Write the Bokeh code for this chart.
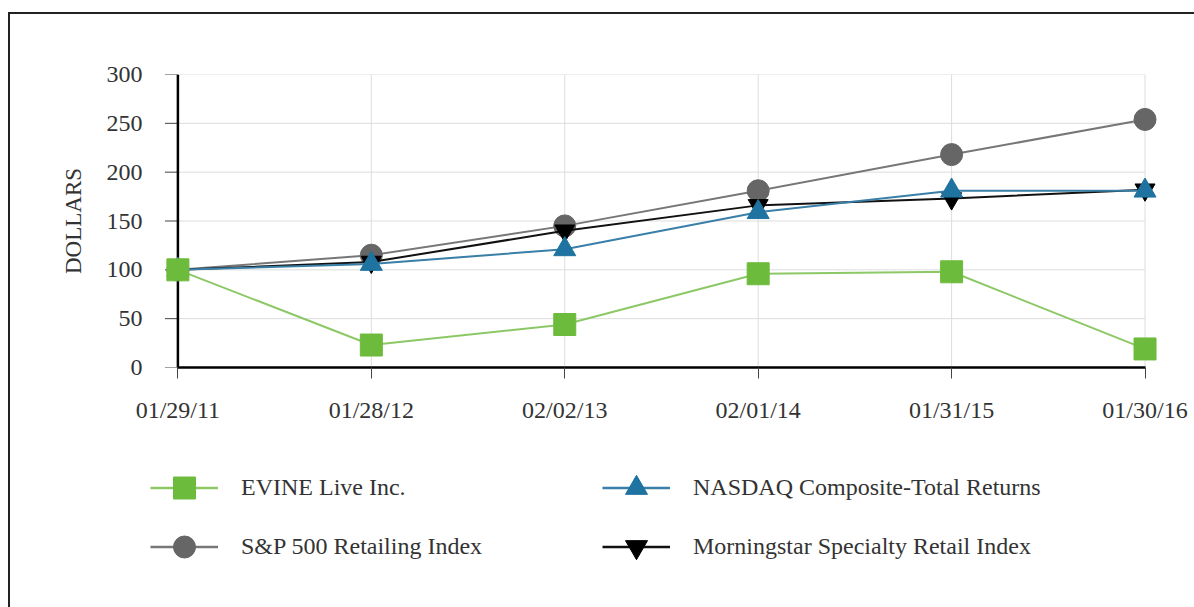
from bokeh.plotting import figure
from bokeh.layouts import column
from bokeh.models import FixedTicker, Legend, LegendItem, Range1d
from bokeh.embed import file_html
from bokeh.resources import INLINE

dates = ["01/29/11", "01/28/12", "02/02/13", "02/01/14", "01/31/15", "01/30/16"]
x_pos = [0, 1, 2, 3, 4, 5]
evine = [100, 23, 44, 96, 98, 19]
nasdaq = [100, 106, 121, 159, 181, 181]
sp500 = [100, 115, 145, 181, 218, 254]
morningstar = [100, 108, 140, 166, 173, 182]
y_ticks = [0, 50, 100, 150, 200, 250, 300]

FONT = "Liberation Serif"
FS = "24px"
TICK_LEN = 0.067  # y tick length in x units (~13 px)

p = figure(width=1184, height=433, output_backend="svg", toolbar_location=None,
           x_range=Range1d(-0.152, 5.08), y_range=Range1d(0, 300),
           min_border_left=138, min_border_right=34, min_border_top=60,
           min_border_bottom=80)
p.outline_line_color = None
p.background_fill_color = "white"
p.border_fill_color = "white"
p.grid.visible = False

p.xaxis.ticker = FixedTicker(ticks=x_pos)
p.xaxis.major_label_overrides = {i: d for i, d in zip(x_pos, dates)}
p.xaxis.bounds = (x_pos[0], x_pos[-1])
p.xaxis.axis_line_color = "black"
p.xaxis.axis_line_width = 2.5
p.xaxis.major_tick_line_color = "#444444"
p.xaxis.major_tick_out = 11
p.xaxis.major_tick_in = 0
p.xaxis.major_label_standoff = 18

p.yaxis.ticker = FixedTicker(ticks=y_ticks)
p.yaxis.axis_line_color = None
p.yaxis.major_tick_line_color = None
p.yaxis.major_tick_out = 0
p.yaxis.major_tick_in = 0
p.yaxis.major_label_standoff = 6
p.yaxis.axis_label = "DOLLARS"
p.yaxis.axis_label_text_font = FONT
p.yaxis.axis_label_text_font_size = "23px"
p.yaxis.axis_label_text_font_style = "normal"
p.yaxis.axis_label_text_color = "#333333"
p.yaxis.axis_label_standoff = 18
for ax in (p.xaxis, p.yaxis):
    ax.minor_tick_line_color = None
    ax.major_label_text_font = FONT
    ax.major_label_text_font_size = FS
    ax.major_label_text_color = "#333333"

# grid lines limited to the data area
p.segment(x0=[x_pos[0]] * len(y_ticks), x1=[x_pos[-1]] * len(y_ticks),
          y0=y_ticks, y1=y_ticks, line_color="#dddddd", line_width=1)
p.segment(x0=x_pos, x1=x_pos, y0=[y_ticks[0]] * len(x_pos), y1=[y_ticks[-1]] * len(x_pos),
          line_color="#dddddd", line_width=1)
# y axis line and ticks at x = first date
p.segment(x0=[x_pos[0] - TICK_LEN] * len(y_ticks), x1=[x_pos[0]] * len(y_ticks),
          y0=y_ticks, y1=y_ticks, line_color="#444444", line_width=1)
p.segment(x0=[x_pos[0]], x1=[x_pos[0]], y0=[y_ticks[0]], y1=[y_ticks[-1]],
          line_color="black", line_width=2.5)

series = {
    "EVINE Live Inc.": (evine, "#8cc866", "#6dbb3c", "square", 22),
    "S&P 500 Retailing Index": (sp500, "#777777", "#666666", "circle", 22),
    "NASDAQ Composite-Total Returns": (nasdaq, "#3a7fa8", "#1f73a0", "triangle", 22),
    "Morningstar Specialty Retail Index": (morningstar, "#111111", "#000000", "inverted_triangle", 20),
}
draw_order = ["S&P 500 Retailing Index", "Morningstar Specialty Retail Index",
              "NASDAQ Composite-Total Returns", "EVINE Live Inc."]
for name in draw_order:
    vals, lc, mc, marker, size = series[name]
    p.line(x_pos, vals, line_color=lc, line_width=2)
    p.scatter(x_pos, vals, marker=marker, size=size, fill_color=mc, line_color=mc)

# legend panel (its renderers lie outside its visible range; only the legend shows)
lp = figure(width=1184, height=160, output_backend="svg", toolbar_location=None,
            x_range=Range1d(100, 101), y_range=Range1d(1000, 1001),
            min_border=0)
lp.axis.visible = False
lp.grid.visible = False
lp.outline_line_color = None
lp.border_fill_color = "white"
lrend = {}
for name, (vals, lc, mc, marker, size) in series.items():
    l = lp.line(x_pos, vals, line_color=lc, line_width=2.5)
    s = lp.scatter(x_pos, vals, marker=marker, size=size, fill_color=mc, line_color=mc)
    lrend[name] = [l, s]

order = ["EVINE Live Inc.", "S&P 500 Retailing Index",
         "NASDAQ Composite-Total Returns", "Morningstar Specialty Retail Index"]
legend = Legend(items=[LegendItem(label=n, renderers=lrend[n]) for n in order],
                ncols=2, location=(2, 33),
                label_text_font=FONT, label_text_font_size=FS,
                label_text_color="#333333", glyph_width=68, glyph_height=55,
                label_height=24, label_standoff=23, label_width=357, spacing=4,
                border_line_color=None, background_fill_alpha=0, padding=0, margin=0)
lp.add_layout(legend, "center")

layout = column(p, lp, spacing=0,
                styles={"margin-left": "8px", "margin-top": "12px",
                        "border-left": "2px solid #222222", "border-top": "2px solid #222222"})

open("out.html", "w").write(file_html(layout, INLINE))
